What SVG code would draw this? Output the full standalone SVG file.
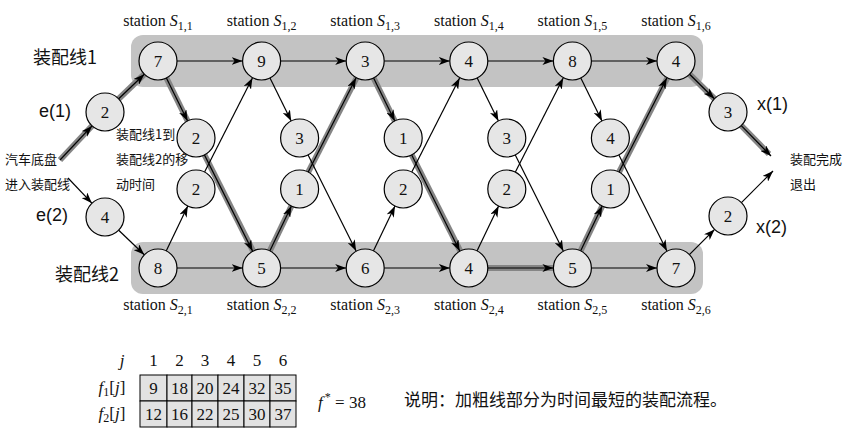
<svg xmlns="http://www.w3.org/2000/svg" width="849" height="444" viewBox="0 0 849 444">
<defs>
<marker id="ah" markerUnits="userSpaceOnUse" markerWidth="12" markerHeight="8" refX="11" refY="4" orient="auto">
<path d="M0,0 L11,4 L0,8 L3,4 z" fill="#000"/>
</marker>
<style>
.band{fill:#c3c3c3}
.nd circle{fill:#e6e6e6;stroke:#000;stroke-width:1.2}
.nd text{font-family:'Liberation Serif','Times New Roman',serif;font-size:17px;text-anchor:middle;fill:#111}
.ln{stroke:#000;stroke-width:1.2;fill:none;marker-end:url(#ah)}
.bold{stroke:#858585;stroke-width:6;fill:none;stroke-linecap:butt}
.st{font-family:'Liberation Serif','Times New Roman',serif;font-size:16px;text-anchor:middle;fill:#111}
.s{font-style:italic}
.sub{font-size:12px}
.cn{font-family:'Noto Sans CJK SC','Liberation Sans',sans-serif;fill:#111}
.lat{font-family:'Liberation Sans','Noto Sans CJK SC',sans-serif;fill:#111;font-size:18px}
.tb{font-family:'Liberation Serif','Times New Roman',serif;font-size:17px;fill:#111;text-anchor:middle}
.it{font-style:italic}
.cell{fill:#e2e2e2;stroke:#000;stroke-width:1}
</style>
</defs>
<rect width="849" height="444" fill="#fff"/>
<g id="bands">
<rect class="band" x="131" y="35" width="572" height="52" rx="12"/>
<rect class="band" x="131" y="242" width="572" height="52" rx="12"/>
</g>
<g id="connectors">
<g id="bold-path">
<line class="bold" x1="60" y1="160" x2="105" y2="112"/>
<line class="bold" x1="105" y1="112" x2="158" y2="61"/>
<line class="bold" x1="158" y1="61" x2="196" y2="138"/>
<line class="bold" x1="196" y1="138" x2="261.6" y2="268"/>
<line class="bold" x1="261.6" y1="268" x2="299.6" y2="189"/>
<line class="bold" x1="299.6" y1="189" x2="365.2" y2="61"/>
<line class="bold" x1="365.2" y1="61" x2="403.2" y2="138"/>
<line class="bold" x1="403.2" y1="138" x2="468.8" y2="268"/>
<line class="bold" x1="468.8" y1="268" x2="572.4" y2="268"/>
<line class="bold" x1="572.4" y1="268" x2="610.4" y2="189"/>
<line class="bold" x1="610.4" y1="189" x2="676" y2="61"/>
<line class="bold" x1="676" y1="61" x2="728" y2="112"/>
<line class="bold" x1="728" y1="112" x2="769" y2="154"/>
</g>
<line class="ln" x1="60" y1="160" x2="92" y2="125.9"/>
<line class="ln" x1="118.7" y1="98.8" x2="144.3" y2="74.2"/>
<line class="ln" x1="68" y1="178" x2="91.9" y2="203.2"/>
<line class="ln" x1="118.7" y1="230.2" x2="144.3" y2="254.8"/>
<line class="ln" x1="689.6" y1="74.3" x2="714.4" y2="98.7"/>
<line class="ln" x1="741.3" y1="125.6" x2="771" y2="156"/>
<line class="ln" x1="689.4" y1="254.6" x2="714.6" y2="229.4"/>
<line class="ln" x1="741.4" y1="202.6" x2="773" y2="171"/>
<line class="ln" x1="177" y1="61" x2="242.6" y2="61"/>
<line class="ln" x1="280.6" y1="61" x2="346.2" y2="61"/>
<line class="ln" x1="384.2" y1="61" x2="449.8" y2="61"/>
<line class="ln" x1="487.8" y1="61" x2="553.4" y2="61"/>
<line class="ln" x1="591.4" y1="61" x2="657" y2="61"/>
<line class="ln" x1="177" y1="268" x2="242.6" y2="268"/>
<line class="ln" x1="280.6" y1="268" x2="346.2" y2="268"/>
<line class="ln" x1="384.2" y1="268" x2="449.8" y2="268"/>
<line class="ln" x1="487.8" y1="268" x2="553.4" y2="268"/>
<line class="ln" x1="591.4" y1="268" x2="657" y2="268"/>
<line class="ln" x1="166.4" y1="78" x2="187.6" y2="121"/>
<line class="ln" x1="204.5" y1="155" x2="252.5" y2="251"/>
<line class="ln" x1="166.2" y1="250.9" x2="187.8" y2="206.1"/>
<line class="ln" x1="204.6" y1="172.1" x2="252.4" y2="78"/>
<line class="ln" x1="270" y1="78" x2="291.2" y2="121"/>
<line class="ln" x1="308.1" y1="155" x2="356.1" y2="251"/>
<line class="ln" x1="269.8" y1="250.9" x2="291.4" y2="206.1"/>
<line class="ln" x1="308.2" y1="172.1" x2="356" y2="78"/>
<line class="ln" x1="373.6" y1="78" x2="394.8" y2="121"/>
<line class="ln" x1="411.7" y1="155" x2="459.7" y2="251"/>
<line class="ln" x1="373.4" y1="250.9" x2="395" y2="206.1"/>
<line class="ln" x1="411.8" y1="172.1" x2="459.6" y2="78"/>
<line class="ln" x1="477.2" y1="78" x2="498.4" y2="121"/>
<line class="ln" x1="515.3" y1="155" x2="563.3" y2="251"/>
<line class="ln" x1="477" y1="250.9" x2="498.6" y2="206.1"/>
<line class="ln" x1="515.4" y1="172.1" x2="563.2" y2="78"/>
<line class="ln" x1="580.8" y1="78" x2="602" y2="121"/>
<line class="ln" x1="618.9" y1="155" x2="666.9" y2="251"/>
<line class="ln" x1="580.6" y1="250.9" x2="602.2" y2="206.1"/>
<line class="ln" x1="619" y1="172.1" x2="666.8" y2="78"/>
</g>
<g id="e1" class="nd"><circle cx="105" cy="112" r="19"/><text x="105" y="118">2</text></g>
<g id="e2" class="nd"><circle cx="105" cy="217" r="19"/><text x="105" y="223">4</text></g>
<g id="x1" class="nd"><circle cx="728" cy="112" r="19"/><text x="728" y="118">3</text></g>
<g id="x2" class="nd"><circle cx="728" cy="216" r="19"/><text x="728" y="222">2</text></g>
<g id="s11" class="nd"><circle cx="158" cy="61" r="19"/><text x="158" y="67">7</text></g>
<g id="s12" class="nd"><circle cx="261.6" cy="61" r="19"/><text x="261.6" y="67">9</text></g>
<g id="s13" class="nd"><circle cx="365.2" cy="61" r="19"/><text x="365.2" y="67">3</text></g>
<g id="s14" class="nd"><circle cx="468.8" cy="61" r="19"/><text x="468.8" y="67">4</text></g>
<g id="s15" class="nd"><circle cx="572.4" cy="61" r="19"/><text x="572.4" y="67">8</text></g>
<g id="s16" class="nd"><circle cx="676" cy="61" r="19"/><text x="676" y="67">4</text></g>
<g id="s21" class="nd"><circle cx="158" cy="268" r="19"/><text x="158" y="274">8</text></g>
<g id="s22" class="nd"><circle cx="261.6" cy="268" r="19"/><text x="261.6" y="274">5</text></g>
<g id="s23" class="nd"><circle cx="365.2" cy="268" r="19"/><text x="365.2" y="274">6</text></g>
<g id="s24" class="nd"><circle cx="468.8" cy="268" r="19"/><text x="468.8" y="274">4</text></g>
<g id="s25" class="nd"><circle cx="572.4" cy="268" r="19"/><text x="572.4" y="274">5</text></g>
<g id="s26" class="nd"><circle cx="676" cy="268" r="19"/><text x="676" y="274">7</text></g>
<g id="t12-1" class="nd"><circle cx="196" cy="138" r="19"/><text x="196" y="144">2</text></g>
<g id="t12-2" class="nd"><circle cx="299.6" cy="138" r="19"/><text x="299.6" y="144">3</text></g>
<g id="t12-3" class="nd"><circle cx="403.2" cy="138" r="19"/><text x="403.2" y="144">1</text></g>
<g id="t12-4" class="nd"><circle cx="506.8" cy="138" r="19"/><text x="506.8" y="144">3</text></g>
<g id="t12-5" class="nd"><circle cx="610.4" cy="138" r="19"/><text x="610.4" y="144">4</text></g>
<g id="t21-1" class="nd"><circle cx="196" cy="189" r="19"/><text x="196" y="195">2</text></g>
<g id="t21-2" class="nd"><circle cx="299.6" cy="189" r="19"/><text x="299.6" y="195">1</text></g>
<g id="t21-3" class="nd"><circle cx="403.2" cy="189" r="19"/><text x="403.2" y="195">2</text></g>
<g id="t21-4" class="nd"><circle cx="506.8" cy="189" r="19"/><text x="506.8" y="195">2</text></g>
<g id="t21-5" class="nd"><circle cx="610.4" cy="189" r="19"/><text x="610.4" y="195">1</text></g>
<g id="station-labels" font-family="Liberation Serif, serif" style="font-family:'Liberation Serif',serif">
<text class="st" x="158" y="26">station <tspan class="s">S</tspan><tspan class="sub" dy="4">1,1</tspan></text>
<text class="st" x="261.6" y="26">station <tspan class="s">S</tspan><tspan class="sub" dy="4">1,2</tspan></text>
<text class="st" x="365.2" y="26">station <tspan class="s">S</tspan><tspan class="sub" dy="4">1,3</tspan></text>
<text class="st" x="468.8" y="26">station <tspan class="s">S</tspan><tspan class="sub" dy="4">1,4</tspan></text>
<text class="st" x="572.4" y="26">station <tspan class="s">S</tspan><tspan class="sub" dy="4">1,5</tspan></text>
<text class="st" x="676" y="26">station <tspan class="s">S</tspan><tspan class="sub" dy="4">1,6</tspan></text>
<text class="st" x="158" y="310">station <tspan class="s">S</tspan><tspan class="sub" dy="4">2,1</tspan></text>
<text class="st" x="261.6" y="310">station <tspan class="s">S</tspan><tspan class="sub" dy="4">2,2</tspan></text>
<text class="st" x="365.2" y="310">station <tspan class="s">S</tspan><tspan class="sub" dy="4">2,3</tspan></text>
<text class="st" x="468.8" y="310">station <tspan class="s">S</tspan><tspan class="sub" dy="4">2,4</tspan></text>
<text class="st" x="572.4" y="310">station <tspan class="s">S</tspan><tspan class="sub" dy="4">2,5</tspan></text>
<text class="st" x="676" y="310">station <tspan class="s">S</tspan><tspan class="sub" dy="4">2,6</tspan></text>
</g>
<g id="labels">
<text class="cn" x="33" y="64" font-size="18">装配线1</text>
<text class="cn" x="55" y="281" font-size="18">装配线2</text>
<text class="lat" x="39" y="117">e(1)</text>
<text class="lat" x="36" y="221">e(2)</text>
<text class="lat" x="757" y="110">x(1)</text>
<text class="lat" x="756" y="233">x(2)</text>
<text class="cn" x="5" y="164" font-size="13">汽车底盘</text>
<text class="cn" x="5" y="189" font-size="13">进入装配线</text>
<text class="cn" x="116" y="139" font-size="13">装配线1到</text>
<text class="cn" x="116" y="164" font-size="13">装配线2的移</text>
<text class="cn" x="116" y="189" font-size="13">动时间</text>
<text class="cn" x="790" y="164" font-size="13">装配完成</text>
<text class="cn" x="790" y="189" font-size="13">退出</text>
<text class="cn" x="404" y="406" font-size="17">说明：加粗线部分为时间最短的装配流程。</text>
</g>
<g id="table" style="font-family:'Liberation Serif',serif">
<rect class="cell" x="140" y="375" width="27" height="26"/>
<rect class="cell" x="167" y="375" width="25" height="26"/>
<rect class="cell" x="192" y="375" width="26" height="26"/>
<rect class="cell" x="218" y="375" width="26" height="26"/>
<rect class="cell" x="244" y="375" width="26" height="26"/>
<rect class="cell" x="270" y="375" width="26" height="26"/>
<rect class="cell" x="140" y="401" width="27" height="26"/>
<rect class="cell" x="167" y="401" width="25" height="26"/>
<rect class="cell" x="192" y="401" width="26" height="26"/>
<rect class="cell" x="218" y="401" width="26" height="26"/>
<rect class="cell" x="244" y="401" width="26" height="26"/>
<rect class="cell" x="270" y="401" width="26" height="26"/>
<text class="tb it" x="122" y="366">j</text>
<text class="tb" x="153.5" y="366" font-size="15">1</text>
<text class="tb" x="179.5" y="366" font-size="15">2</text>
<text class="tb" x="205" y="366" font-size="15">3</text>
<text class="tb" x="231" y="366" font-size="15">4</text>
<text class="tb" x="257" y="366" font-size="15">5</text>
<text class="tb" x="283" y="366" font-size="15">6</text>
<text class="tb" x="112" y="393"><tspan class="it">f</tspan><tspan font-size="12" dy="3">1</tspan><tspan dy="-3">[</tspan><tspan class="it">j</tspan>]</text>
<text class="tb" x="112" y="419"><tspan class="it">f</tspan><tspan font-size="12" dy="3">2</tspan><tspan dy="-3">[</tspan><tspan class="it">j</tspan>]</text>
<text class="tb" x="153.5" y="394">9</text>
<text class="tb" x="179.5" y="394">18</text>
<text class="tb" x="205" y="394">20</text>
<text class="tb" x="231" y="394">24</text>
<text class="tb" x="257" y="394">32</text>
<text class="tb" x="283" y="394">35</text>
<text class="tb" x="153.5" y="420">12</text>
<text class="tb" x="179.5" y="420">16</text>
<text class="tb" x="205" y="420">22</text>
<text class="tb" x="231" y="420">25</text>
<text class="tb" x="257" y="420">30</text>
<text class="tb" x="283" y="420">37</text>
<text class="tb" x="342" y="408"><tspan class="it">f</tspan><tspan font-size="12" dy="-7" dx="2">*</tspan><tspan dy="7"> = 38</tspan></text>
</g>
</svg>
